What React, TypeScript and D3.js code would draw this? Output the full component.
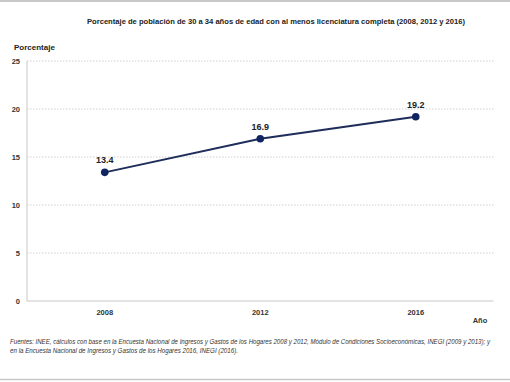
import React from "react";
import * as d3 from "d3";

const years = ["2008", "2012", "2016"];
const values = [13.4, 16.9, 19.2];
const yTicks = [0, 5, 10, 15, 20, 25];

const W = 510;
const H = 382;
const left = 27;
const right = 493.5;
const top = 61;
const bottom = 301;

export default function App() {
  const x = d3.scaleBand<string>().domain(years).range([left, right]);
  const y = d3.scaleLinear().domain([0, 25]).range([bottom, top]);
  const cx = (d: string) => (x(d) ?? 0) + x.bandwidth() / 2;
  const line = d3
    .line<number>()
    .x((_, i) => cx(years[i]))
    .y((v) => y(v));
  const font = "Arial, 'Liberation Sans', sans-serif";
  return (
    <svg
      width={W}
      height={H}
      style={{ position: "absolute", left: 0, top: 0, background: "#fff" }}
      fontFamily={font}
    >
      <rect x={0} y={0} width={W} height={H} fill="#fff" />
      <line x1={0} x2={W} y1={1} y2={1} stroke="#c8c8c8" strokeWidth={2} />
      <line x1={0} x2={W} y1={379.5} y2={379.5} stroke="#c8c8c8" strokeWidth={1.5} />
      <text
        x={87}
        y={24}
        fontSize={8}
        fontWeight="bold"
        fill="#222"
        textLength={378}
        lengthAdjust="spacingAndGlyphs"
      >
        Porcentaje de población de 30 a 34 años de edad con al menos licenciatura completa (2008, 2012 y 2016)
      </text>
      <text x={14} y={50} fontSize={8} fontWeight="bold" fill="#222">
        Porcentaje
      </text>
      {yTicks.map((t) => (
        <g key={t}>
          {t > 0 && (
            <line
              x1={left}
              x2={right}
              y1={y(t)}
              y2={y(t)}
              stroke="#c4c4c4"
              strokeWidth={0.8}
              strokeDasharray="1.5,1.5"
            />
          )}
          <text x={20} y={y(t) + 3} textAnchor="end" fontSize={7.5} fontWeight="bold" fill="#333">
            {t}
          </text>
        </g>
      ))}
      <line x1={left} x2={left} y1={top} y2={bottom} stroke="#c8c8c8" strokeWidth={1} />
      <line x1={left} x2={right} y1={bottom} y2={bottom} stroke="#c8c8c8" strokeWidth={1} />
      {years.map((yr) => (
        <text key={yr} x={cx(yr)} y={315} textAnchor="middle" fontSize={7.5} fontWeight="bold" fill="#333">
          {yr}
        </text>
      ))}
      <text x={480} y={323} textAnchor="middle" fontSize={7.5} fontWeight="bold" fill="#333">
        Año
      </text>
      <path d={line(values) ?? ""} fill="none" stroke="#1f2d5a" strokeWidth={2} />
      {values.map((v, i) => (
        <g key={i}>
          <circle cx={cx(years[i])} cy={y(v)} r={3.8} fill="#0f2460" />
          <text
            x={cx(years[i])}
            y={y(v) - 9}
            textAnchor="middle"
            fontSize={9}
            fontWeight="bold"
            fill="#222"
          >
            {v.toFixed(1)}
          </text>
        </g>
      ))}
      <text
        x={10}
        y={344}
        fontSize={6.3}
        fontStyle="italic"
        fill="#333"
        textLength={480}
        lengthAdjust="spacingAndGlyphs"
      >
        Fuentes: INEE, cálculos con base en la Encuesta Nacional de Ingresos y Gastos de los Hogares 2008 y 2012, Módulo de Condiciones Socioeconómicas, INEGI (2009 y 2013); y
      </text>
      <text
        x={10}
        y={353}
        fontSize={6.3}
        fontStyle="italic"
        fill="#333"
        textLength={228}
        lengthAdjust="spacingAndGlyphs"
      >
        en la Encuesta Nacional de Ingresos y Gastos de los Hogares 2016, INEGI (2016).
      </text>
    </svg>
  );
}
